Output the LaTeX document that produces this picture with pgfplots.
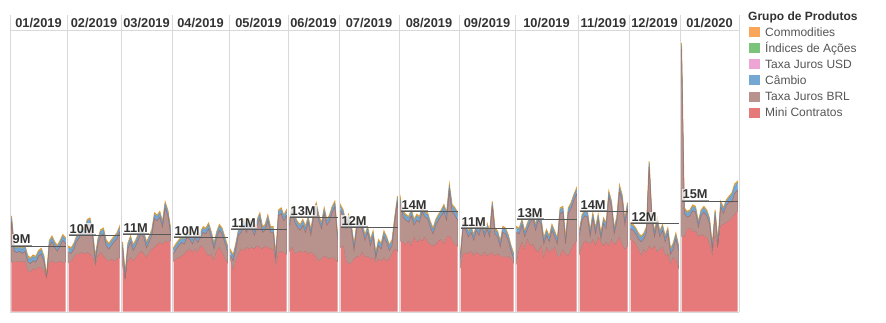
\documentclass[border=0pt]{standalone}
\usepackage{pgfplots}
\pgfplotsset{compat=1.18}
\usepackage{pgfplotstable}
\usepackage{fontspec}
\setmainfont{Liberation Sans}

\definecolor{cCom}{HTML}{F9A65A}
\definecolor{cComD}{HTML}{E39A35}
\definecolor{cInd}{HTML}{7DC47B}
\definecolor{cUsd}{HTML}{EDA5D3}
\definecolor{cCam}{HTML}{74A7D2}
\definecolor{cCamD}{HTML}{5B8FC0}
\definecolor{cBrl}{HTML}{B8928D}
\definecolor{cBrlD}{HTML}{9E706C}
\definecolor{cMini}{HTML}{E67A7B}
\definecolor{cGrid}{HTML}{D9D9D9}
\definecolor{cTxt}{HTML}{333333}
\definecolor{cLeg}{HTML}{555555}
\definecolor{cAvg}{HTML}{585858}

% Jan 2019
\pgfplotstableread{
R B C U I O
6.8 5.6 0.55 0.05 0.08 0.12
6.8 1.5 0.55 0.05 0.08 0.12
6.8 1.3 0.55 0.05 0.08 0.12
6.9 1.4 0.55 0.05 0.08 0.12
6.8 1.2 0.55 0.05 0.08 0.12
6.9 1.4 0.55 0.05 0.08 0.12
5.6 1.3 0.55 0.05 0.08 0.12
5.4 1.2 0.55 0.05 0.08 0.12
5.9 1.1 0.55 0.05 0.08 0.12
5.7 1.1 0.55 0.05 0.08 0.12
6.1 1.5 0.55 0.05 0.08 0.12
6.0 1.9 0.55 0.05 0.08 0.12
5.6 1.3 0.55 0.05 0.08 0.12
4.4 0.2 0.20 0.05 0.05 0.10
6.7 2.3 0.55 0.05 0.08 0.12
6.9 2.7 0.55 0.05 0.08 0.12
6.7 2.1 0.55 0.05 0.08 0.12
6.8 1.5 0.55 0.05 0.08 0.12
6.9 2.1 0.55 0.05 0.08 0.12
6.7 3.1 0.55 0.05 0.08 0.12
6.8 2.6 0.55 0.05 0.08 0.12
}\tA
% Feb 2019
\pgfplotstableread{
R B C U I O
6.7 1.5 0.55 0.05 0.08 0.12
6.9 1.1 0.55 0.05 0.08 0.12
7.4 1.2 0.55 0.05 0.08 0.12
7.9 1.7 0.55 0.05 0.08 0.12
7.9 2.3 0.55 0.05 0.08 0.12
8.1 2.8 0.55 0.05 0.08 0.12
7.9 2.6 0.55 0.05 0.15 0.12
8.1 3.8 0.55 0.05 0.08 0.12
7.9 4.2 0.55 0.05 0.08 0.12
7.4 2.8 0.55 0.05 0.08 0.12
6.2 0.6 0.55 0.05 0.08 0.12
7.6 1.7 0.55 0.05 0.08 0.12
8.1 2.4 0.55 0.05 0.08 0.12
7.6 3.1 0.55 0.05 0.08 0.12
7.2 1.9 0.55 0.05 0.08 0.12
6.9 1.7 0.55 0.05 0.08 0.12
7.2 1.9 0.55 0.05 0.08 0.12
6.9 2.7 0.55 0.05 0.08 0.12
7.2 2.8 0.55 0.05 0.08 0.12
7.4 3.5 0.55 0.05 0.08 0.12
}\tB
% Mar 2019
\pgfplotstableread{
R B C U I O
6.5 2.3 0.55 0.05 0.08 0.12
3.9 0.6 0.55 0.05 0.08 0.12
6.9 1.7 0.55 0.05 0.08 0.12
7.4 2.2 0.55 0.05 0.08 0.12
6.9 1.5 0.55 0.05 0.08 0.12
7.4 1.7 0.55 0.05 0.08 0.12
7.9 2.1 0.55 0.05 0.08 0.12
8.3 2.5 0.55 0.05 0.08 0.12
7.9 2.3 0.55 0.05 0.08 0.12
7.4 1.4 0.55 0.05 0.08 0.12
8.1 1.5 0.55 0.05 0.08 0.12
8.6 1.9 0.55 0.05 0.08 0.12
8.8 4.0 0.55 0.05 0.08 0.12
9.2 3.3 0.55 0.05 0.08 0.12
9.5 3.5 0.55 0.05 0.08 0.12
9.2 2.4 0.55 0.05 0.08 0.12
9.7 4.6 0.55 0.05 0.08 0.12
9.5 3.7 0.55 0.05 0.08 0.12
9.8 1.0 0.55 0.05 0.08 0.12
}\tC
% Apr 2019
\pgfplotstableread{
R B C U I O
6.9 1.1 0.55 0.05 0.08 0.12
7.2 1.4 0.55 0.05 0.08 0.12
7.4 1.7 0.55 0.05 0.08 0.12
7.6 1.9 0.55 0.05 0.08 0.12
7.9 1.4 0.55 0.05 0.08 0.12
8.3 1.9 0.55 0.05 0.08 0.12
8.6 1.4 0.55 0.05 0.08 0.12
8.1 1.2 0.55 0.05 0.08 0.12
8.6 1.6 0.55 0.05 0.08 0.12
8.1 1.4 0.55 0.05 0.08 0.12
9.0 1.2 0.55 0.05 0.08 0.12
8.8 2.1 0.55 0.05 0.08 0.12
8.1 2.6 0.55 0.05 0.08 0.12
7.6 3.8 0.55 0.05 0.08 0.12
7.9 2.3 0.55 0.05 0.08 0.12
6.9 1.7 0.55 0.05 0.08 0.12
8.3 1.9 0.55 0.05 0.08 0.12
8.8 2.4 0.55 0.05 0.08 0.12
8.1 2.6 0.55 0.05 0.08 0.12
7.2 2.3 0.55 0.05 0.08 0.12
6.7 1.6 0.55 0.05 0.08 0.12
}\tD
% May 2019
\pgfplotstableread{
R B C U I O
7.2 0.5 0.55 0.05 0.08 0.12
5.6 1.4 0.55 0.05 0.08 0.12
6.9 1.7 0.55 0.05 0.08 0.12
7.9 2.6 0.55 0.05 0.08 0.12
8.6 2.3 0.55 0.05 0.08 0.12
8.3 3.6 0.55 0.05 0.08 0.12
8.8 2.1 0.55 0.05 0.08 0.12
8.6 3.3 0.55 0.05 0.08 0.12
8.8 2.6 0.55 0.05 0.08 0.12
8.6 1.9 0.55 0.05 0.08 0.12
9.0 2.9 0.55 0.05 0.08 0.12
8.8 4.0 0.55 0.05 0.08 0.12
8.6 2.3 0.55 0.05 0.08 0.12
9.0 2.2 0.55 0.05 0.08 0.12
8.8 3.7 0.55 0.05 0.08 0.12
8.6 2.3 0.55 0.05 0.08 0.12
8.6 2.3 0.55 0.05 0.08 0.12
6.0 1.0 0.55 0.05 0.08 0.12
8.1 5.1 0.55 0.05 0.08 0.12
8.3 5.2 0.55 0.05 0.08 0.12
8.1 4.4 0.55 0.05 0.08 0.12
7.9 5.3 0.55 0.05 0.08 0.12
}\tE
% Jun 2019
\pgfplotstableread{
R B C U I O
8.3 3.6 0.55 0.05 0.08 0.12
8.8 4.9 0.55 0.05 0.08 0.12
7.9 4.4 0.55 0.05 0.08 0.12
8.1 3.5 0.55 0.05 0.08 0.12
8.3 2.9 0.55 0.05 0.08 0.12
8.1 3.8 0.55 0.05 0.08 0.12
8.3 2.6 0.55 0.05 0.15 0.12
7.9 4.4 0.55 0.05 0.08 0.12
8.1 2.4 0.55 0.05 0.08 0.12
7.9 4.9 0.55 0.05 0.08 0.12
7.4 6.8 0.55 0.05 0.08 0.12
6.9 5.6 0.55 0.05 0.08 0.12
7.2 4.2 0.55 0.05 0.08 0.12
7.6 5.9 0.55 0.05 0.08 0.12
7.4 4.5 0.55 0.05 0.08 0.12
7.2 5.3 0.55 0.05 0.08 0.12
7.4 6.3 0.55 0.05 0.08 0.12
7.2 7.2 0.55 0.05 0.08 0.12
6.9 3.1 0.55 0.05 0.08 0.12
}\tF
% Jul 2019
\pgfplotstableread{
R B C U I O
8.8 5.1 0.55 0.05 0.08 0.12
9.0 4.2 0.55 0.05 0.08 0.12
6.9 4.5 0.55 0.05 0.08 0.12
6.5 6.1 0.55 0.05 0.08 0.12
6.7 4.5 0.55 0.05 0.08 0.12
7.2 1.2 0.55 0.05 0.08 0.12
7.6 3.8 0.55 0.05 0.08 0.12
7.4 4.5 0.55 0.05 0.08 0.12
8.1 3.3 0.55 0.05 0.08 0.12
7.4 2.4 0.55 0.05 0.08 0.12
7.6 3.3 0.55 0.05 0.08 0.12
7.2 1.9 0.55 0.05 0.08 0.12
7.4 2.9 0.55 0.05 0.08 0.12
6.7 0.6 0.55 0.05 0.08 0.12
7.2 1.9 0.55 0.05 0.08 0.12
6.9 1.7 0.55 0.05 0.08 0.12
7.4 2.9 0.55 0.05 0.08 0.12
6.9 2.6 0.55 0.05 0.08 0.12
7.2 1.2 0.55 0.05 0.08 0.12
7.9 1.2 0.55 0.05 0.08 0.12
8.6 3.7 0.55 0.05 0.08 0.12
8.3 6.8 0.55 0.05 0.08 0.12
}\tG
% Aug 2019
\pgfplotstableread{
R B C U I O
9.7 5.1 0.55 0.05 0.08 0.12
9.5 3.5 0.55 0.05 0.08 0.12
9.2 3.4 0.55 0.05 0.08 0.12
9.7 2.6 0.55 0.05 0.08 0.12
9.0 4.2 0.55 0.05 0.15 0.12
10.2 1.7 0.55 0.05 0.08 0.12
9.5 3.1 0.55 0.05 0.08 0.12
9.9 2.4 0.55 0.05 0.08 0.12
9.7 4.0 0.55 0.05 0.08 0.12
10.2 2.8 0.55 0.05 0.08 0.12
9.5 3.3 0.55 0.05 0.08 0.12
9.2 2.4 0.55 0.05 0.08 0.12
9.0 1.7 0.55 0.05 0.08 0.12
9.2 2.7 0.55 0.05 0.08 0.12
9.7 2.9 0.55 0.05 0.08 0.12
9.9 3.3 0.55 0.05 0.08 0.12
9.2 4.5 0.80 0.05 0.08 0.12
10.2 2.4 0.80 0.05 0.08 0.12
10.4 6.1 0.80 0.05 0.08 0.12
9.7 4.0 0.80 0.05 0.08 0.12
9.2 4.1 0.80 0.05 0.08 0.12
9.0 3.6 0.80 0.05 0.08 0.12
}\tH
% Sep 2019
\pgfplotstableread{
R B C U I O
6.0 1.3 0.55 0.05 0.08 0.12
7.9 3.7 0.55 0.05 0.08 0.12
8.1 3.1 0.55 0.05 0.08 0.12
7.9 2.4 0.55 0.05 0.08 0.12
8.3 2.6 0.55 0.05 0.08 0.12
7.6 2.2 0.55 0.05 0.08 0.12
8.1 3.1 0.55 0.05 0.08 0.12
7.9 2.6 0.55 0.05 0.08 0.12
7.6 4.3 0.55 0.05 0.08 0.12
8.1 2.2 0.55 0.05 0.08 0.12
7.6 3.8 0.55 0.05 0.08 0.12
7.9 2.4 0.55 0.05 0.08 0.12
8.1 6.3 0.55 0.05 0.08 0.12
7.6 3.1 0.55 0.05 0.08 0.12
7.9 2.4 0.55 0.05 0.08 0.12
7.6 1.3 0.55 0.05 0.08 0.12
7.6 3.3 0.55 0.10 0.08 0.12
7.4 3.3 0.55 0.05 0.08 0.12
7.6 2.2 0.55 0.05 0.08 0.12
7.2 1.2 0.55 0.05 0.08 0.12
6.7 0.6 0.55 0.05 0.08 0.12
}\tI
% Oct 2019
\pgfplotstableread{
R B C U I O
6.5 4.4 0.55 0.05 0.08 0.12
8.5 2.2 0.55 0.05 0.08 0.12
9.5 2.4 0.55 0.05 0.08 0.12
8.5 1.8 0.55 0.05 0.08 0.12
9.9 1.5 0.55 0.05 0.08 0.12
9.0 3.3 0.55 0.05 0.08 0.12
9.2 3.6 0.55 0.05 0.08 0.12
8.5 2.7 0.55 0.05 0.08 0.12
8.1 4.5 0.55 0.05 0.08 0.12
9.0 3.1 0.55 0.05 0.08 0.12
7.2 2.1 0.55 0.05 0.15 0.12
8.8 1.7 0.55 0.05 0.08 0.12
8.1 1.5 0.55 0.05 0.08 0.12
8.5 2.7 0.55 0.05 0.08 0.12
8.8 1.5 0.55 0.05 0.08 0.12
7.6 1.7 0.55 0.05 0.08 0.12
7.6 5.9 0.55 0.05 0.08 0.12
8.5 5.2 0.55 0.05 0.08 0.12
7.9 1.4 0.55 0.05 0.08 0.12
7.6 5.9 0.55 0.05 0.08 0.12
8.5 5.7 0.55 0.05 0.08 0.12
9.2 6.1 0.55 0.05 0.08 0.12
9.7 6.5 0.55 0.05 0.08 0.12
}\tJ
% Nov 2019
\pgfplotstableread{
R B C U I O
7.9 2.6 0.55 0.05 0.08 0.12
9.0 3.6 0.55 0.05 0.08 0.12
9.7 3.5 0.55 0.05 0.08 0.12
9.5 3.5 0.55 0.05 0.08 0.12
9.2 1.1 0.55 0.05 0.08 0.12
9.9 2.9 0.55 0.05 0.08 0.12
9.0 1.7 0.55 0.05 0.08 0.12
10.2 2.4 0.55 0.05 0.08 0.12
9.5 0.5 0.55 0.05 0.08 0.12
9.0 3.1 0.55 0.05 0.08 0.12
9.5 1.9 0.55 0.05 0.08 0.12
9.0 6.8 0.55 0.05 0.08 0.12
9.9 4.5 0.55 0.05 0.08 0.12
9.2 1.5 0.55 0.05 0.08 0.12
9.5 2.8 0.55 0.05 0.08 0.12
10.2 6.3 0.55 0.15 0.08 0.12
9.2 6.1 0.55 0.05 0.08 0.12
8.5 3.4 0.55 0.05 0.08 0.12
9.0 5.2 0.55 0.05 0.08 0.12
}\tK
% Dec 2019
\pgfplotstableread{
R B C U I O
9.9 1.5 0.55 0.05 0.08 0.12
9.7 1.5 0.55 0.05 0.08 0.12
9.2 1.5 0.55 0.05 0.08 0.12
8.5 1.5 0.55 0.05 0.08 0.12
7.6 2.0 0.55 0.05 0.08 0.12
8.5 1.5 0.55 0.05 0.08 0.12
8.1 2.8 0.55 0.05 0.08 0.12
9.0 10.9 0.55 0.05 0.08 0.12
8.5 4.1 0.55 0.05 0.08 0.12
9.0 1.3 0.55 0.05 0.08 0.12
8.1 4.0 0.55 0.05 0.08 0.12
8.5 1.8 0.55 0.05 0.08 0.12
8.8 2.4 0.55 0.05 0.08 0.12
7.6 2.0 0.55 0.05 0.08 0.12
7.9 2.8 0.55 0.05 0.08 0.12
6.5 1.4 0.55 0.05 0.08 0.12
7.4 1.2 0.55 0.05 0.08 0.12
7.0 3.0 0.55 0.05 0.08 0.12
6.0 2.4 0.55 0.05 0.08 0.12
}\tL
% Jan 2020
\pgfplotstableread{
R B C U I O
10.4 25.8 0.55 0.05 0.08 0.12
10.2 3.3 0.55 0.05 0.08 0.12
11.3 1.7 0.55 0.05 0.08 0.12
11.5 1.7 0.55 0.05 0.08 0.12
10.9 3.0 0.55 0.05 0.08 0.12
11.1 2.6 0.55 0.05 0.08 0.12
10.2 1.4 0.55 0.05 0.08 0.12
10.6 2.6 0.55 0.05 0.08 0.12
10.4 3.3 0.55 0.05 0.08 0.12
10.2 3.0 0.55 0.05 0.08 0.12
9.2 2.9 0.55 0.05 0.08 0.12
7.6 0.8 0.55 0.05 0.08 0.12
10.4 2.8 0.55 0.05 0.08 0.12
8.5 0.4 0.55 0.05 0.08 0.12
11.8 2.6 0.55 0.05 0.08 0.12
12.0 1.5 0.55 0.05 0.08 0.12
12.2 2.4 0.55 0.05 0.08 0.12
12.5 2.6 0.55 0.05 0.08 0.12
12.9 2.2 1.00 0.05 0.08 0.12
13.4 2.9 1.00 0.10 0.08 0.12
13.8 2.9 1.00 0.05 0.08 0.12
}\tM

\pgfplotsset{
  panelbase/.style={scale only axis, height=279.5pt, ymin=0, ymax=38.55,
    xmin=0, hide axis, clip=false, anchor=south west},
}

% #1 left (pt), #2 width (pt), #3 table, #4 last index, #5 average, #6 label, #7 header
\newcommand{\panel}[7]{%
  \begin{axis}[panelbase, stack plots=y, at={(#1pt,10.5pt)}, width=#2pt, xmax=#4]
    \addplot[fill=cMini, draw=none] table[x expr=\coordindex, y=R]{#3} \closedcycle;
    \addplot[fill=cBrl, draw=cBrlD, line width=0.5pt] table[x expr=\coordindex, y=B]{#3} \closedcycle;
    \addplot[fill=cCam, draw=cCamD, line width=0.3pt] table[x expr=\coordindex, y=C]{#3} \closedcycle;
    \addplot[fill=cUsd, draw=none] table[x expr=\coordindex, y=U]{#3} \closedcycle;
    \addplot[fill=cInd, draw=none] table[x expr=\coordindex, y=I]{#3} \closedcycle;
    \addplot[fill=cCom, draw=cComD, line width=0.9pt] table[x expr=\coordindex, y=O]{#3} \closedcycle;
  \end{axis}
  \begin{axis}[panelbase, at={(#1pt,10.5pt)}, width=#2pt, xmax=#4]
    \addplot[cAvg, line width=1.4pt] coordinates {(0,#5) (#4,#5)};
    \node[anchor=south west, font=\fontsize{12.8}{13}\selectfont\bfseries, text=cTxt,
      fill=white, fill opacity=0.7, text opacity=1, inner sep=1pt, yshift=1pt]
      (lab) at (axis cs:0,#5) {#6};
    \draw[black!40, line width=0.9pt] (lab.south west) -- (lab.south east);
  \end{axis}
  \node[anchor=base, font=\fontsize{12.8}{14}\selectfont\bfseries, text=cTxt]
    at ({#1pt+#2pt/2},294.3pt) {#7};
}

\begin{document}
\begin{tikzpicture}
\path[use as bounding box] (0,0) rectangle (886pt,322pt);
% frame
\foreach \x in {10,67,121,172,229,288,339,399,459,515,578,629,680,739}
  \draw[cGrid, line width=1pt] (\x pt,10pt) -- (\x pt,307pt);
\draw[cGrid, line width=1pt] (10pt,291pt) -- (739pt,291pt);
\draw[cGrid, line width=1pt] (10pt,10pt) -- (739pt,10pt);

\panel{11.5}{54}{\tA}{20}{9.0}{9M}{01/2019}
\panel{68.5}{51}{\tB}{19}{10.48}{10M}{02/2019}
\panel{122.5}{48}{\tC}{18}{10.62}{11M}{03/2019}
\panel{173.5}{54}{\tD}{20}{10.2}{10M}{04/2019}
\panel{230.5}{56}{\tE}{21}{11.3}{11M}{05/2019}
\panel{289.5}{48}{\tF}{18}{12.97}{13M}{06/2019}
\panel{340.5}{57}{\tG}{21}{11.6}{12M}{07/2019}
\panel{400.5}{57}{\tH}{21}{13.8}{14M}{08/2019}
\panel{460.5}{53}{\tI}{20}{11.45}{11M}{09/2019}
\panel{516.5}{60}{\tJ}{22}{12.7}{13M}{10/2019}
\panel{579.5}{48}{\tK}{18}{13.8}{14M}{11/2019}
\panel{630.5}{48}{\tL}{18}{12.1}{12M}{12/2019}
\panel{681.5}{56}{\tM}{20}{15.2}{15M}{01/2020}

% legend
\node[anchor=base west, inner sep=0pt, font=\fontsize{12}{13}\selectfont\bfseries, text=cTxt]
  at (748pt,301pt) {Grupo de Produtos};
\foreach \c/\t [count=\i from 0] in {cCom/Commodities, cInd/Índices de Ações, cUsd/Taxa Juros USD, cCam/Câmbio, cBrl/Taxa Juros BRL, cMini/Mini Contratos} {
  \pgfmathsetmacro{\yy}{289.5-16*\i}
  \fill[\c] (748.5pt,\yy pt-5pt) rectangle (760pt,\yy pt+5pt);
  \node[anchor=base west, inner sep=0pt, font=\fontsize{12}{13}\selectfont, text=cLeg]
    at (765pt,\yy pt-4.3pt) {\t};
}
\end{tikzpicture}
\end{document}
